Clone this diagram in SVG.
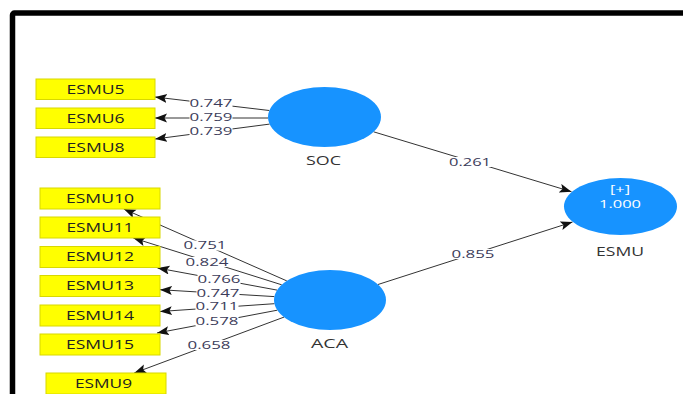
<svg xmlns="http://www.w3.org/2000/svg" width="683" height="394" viewBox="0 0 683 394">
<style>
.ind rect{fill:#ffff00;stroke:#d8d800;stroke-width:1}
.ind text{font-family:"Open Sans","Noto Sans",sans-serif;font-size:12px;fill:#222;text-anchor:middle}
.lat ellipse{fill:#1793ff}
.lat text{font-family:"Open Sans","Noto Sans",sans-serif;font-size:12px;fill:#333;text-anchor:middle}
.lat text.in{fill:#ffffff;font-size:10.5px}
.conn line{stroke:#333;stroke-width:1;marker-end:url(#ah)}
.lbl rect{fill:#ffffff}
.lbl text{font-family:"Open Sans","Noto Sans",sans-serif;font-size:10.5px;fill:#3c3c5a;text-anchor:middle}
</style>
<defs>
<marker id="ah" markerUnits="userSpaceOnUse" markerWidth="14" markerHeight="12" refX="12" refY="4.5" orient="auto">
<path d="M0,0 L12,4.5 L0,9 L2.5,4.5 z" fill="#111"/>
</marker>
</defs>
<rect x="0" y="0" width="683" height="394" fill="#ffffff"/>
<rect x="12.5" y="13" width="700" height="400" rx="2" fill="none" stroke="#000" stroke-width="5.5"/>

<g id="connectors" class="conn">
<line x1="269.3" y1="110.5" x2="155" y2="97"/>
<line x1="268" y1="118" x2="155" y2="118"/>
<line x1="269.6" y1="124.1" x2="155" y2="139"/>
<line x1="373.6" y1="131.8" x2="571.5" y2="191.7"/>
<line x1="378" y1="284.5" x2="572.5" y2="222"/>
<line x1="286.8" y1="280.9" x2="123.8" y2="209"/>
<line x1="281.7" y1="284.8" x2="133.3" y2="238"/>
<line x1="277.1" y1="290.1" x2="157.5" y2="268"/>
<line x1="274.4" y1="296.6" x2="160" y2="289.7"/>
<line x1="274.5" y1="303.7" x2="160" y2="311.5"/>
<line x1="277.3" y1="310.2" x2="157" y2="333"/>
<line x1="284" y1="317.1" x2="134.2" y2="373"/>
<g class="lbl">
<rect x="189.5" y="98" width="43" height="10"/><text x="211" y="106.7" textLength="43" lengthAdjust="spacingAndGlyphs">0.747</text>
<rect x="189.5" y="112" width="43" height="10"/><text x="211" y="120.7" textLength="43" lengthAdjust="spacingAndGlyphs">0.759</text>
<rect x="189.5" y="126" width="43" height="10"/><text x="211" y="134.7" textLength="43" lengthAdjust="spacingAndGlyphs">0.739</text>
<rect x="448.5" y="157" width="43" height="10"/><text x="470" y="165.7" textLength="42" lengthAdjust="spacingAndGlyphs">0.261</text>
<rect x="451.5" y="249" width="43" height="10"/><text x="473" y="257.7" textLength="43" lengthAdjust="spacingAndGlyphs">0.855</text>
<rect x="183.5" y="240.5" width="43" height="10"/><text x="205" y="249.2" textLength="43" lengthAdjust="spacingAndGlyphs">0.751</text>
<rect x="185.5" y="257" width="43" height="10"/><text x="207" y="265.7" textLength="43" lengthAdjust="spacingAndGlyphs">0.824</text>
<rect x="197.5" y="274" width="43" height="10"/><text x="219" y="282.7" textLength="43" lengthAdjust="spacingAndGlyphs">0.766</text>
<rect x="196.5" y="288.7" width="43" height="10"/><text x="218" y="297.4" textLength="43" lengthAdjust="spacingAndGlyphs">0.747</text>
<rect x="195.5" y="301.7" width="43" height="10"/><text x="217" y="310.4" textLength="43" lengthAdjust="spacingAndGlyphs">0.711</text>
<rect x="195.5" y="316" width="43" height="10"/><text x="217" y="324.7" textLength="43" lengthAdjust="spacingAndGlyphs">0.578</text>
<rect x="187.5" y="340" width="43" height="10"/><text x="209" y="348.7" textLength="43" lengthAdjust="spacingAndGlyphs">0.658</text>
</g>
</g>

<g id="SOC" class="lat"><ellipse cx="324.5" cy="117" rx="56.5" ry="30"/><text x="323.5" y="165.3" textLength="35" lengthAdjust="spacingAndGlyphs">SOC</text></g>
<g id="ACA" class="lat"><ellipse cx="330" cy="300" rx="56" ry="30"/><text x="329.5" y="348.3" textLength="37" lengthAdjust="spacingAndGlyphs">ACA</text></g>
<g id="ESMU" class="lat"><ellipse cx="620.5" cy="206.5" rx="56.5" ry="28.5"/>
<text class="in" x="620" y="192.7" textLength="20" lengthAdjust="spacingAndGlyphs">[+]</text>
<text class="in" x="620" y="208" textLength="42" lengthAdjust="spacingAndGlyphs">1.000</text>
<text x="620" y="256" textLength="48" lengthAdjust="spacingAndGlyphs">ESMU</text></g>

<g id="ESMU5" class="ind"><rect x="36" y="79" width="119" height="20.5"/><text x="95.5" y="93.5" textLength="58" lengthAdjust="spacingAndGlyphs">ESMU5</text></g>
<g id="ESMU6" class="ind"><rect x="36" y="108" width="119" height="20.5"/><text x="95.5" y="122.5" textLength="58" lengthAdjust="spacingAndGlyphs">ESMU6</text></g>
<g id="ESMU8" class="ind"><rect x="36" y="137" width="119" height="20.5"/><text x="95.5" y="151.5" textLength="58" lengthAdjust="spacingAndGlyphs">ESMU8</text></g>
<g id="ESMU10" class="ind"><rect x="40" y="188" width="120" height="21"/><text x="100" y="202.8" textLength="68" lengthAdjust="spacingAndGlyphs">ESMU10</text></g>
<g id="ESMU11" class="ind"><rect x="40" y="217" width="120" height="21"/><text x="100" y="231.8" textLength="67" lengthAdjust="spacingAndGlyphs">ESMU11</text></g>
<g id="ESMU12" class="ind"><rect x="40" y="246.5" width="120" height="21"/><text x="100" y="261.3" textLength="68" lengthAdjust="spacingAndGlyphs">ESMU12</text></g>
<g id="ESMU13" class="ind"><rect x="40" y="275.5" width="120" height="21"/><text x="100" y="290.3" textLength="68" lengthAdjust="spacingAndGlyphs">ESMU13</text></g>
<g id="ESMU14" class="ind"><rect x="40" y="305" width="120" height="21"/><text x="100" y="319.8" textLength="68" lengthAdjust="spacingAndGlyphs">ESMU14</text></g>
<g id="ESMU15" class="ind"><rect x="40" y="334" width="120" height="21"/><text x="100" y="348.8" textLength="68" lengthAdjust="spacingAndGlyphs">ESMU15</text></g>
<g id="ESMU9" class="ind"><rect x="46" y="373" width="120" height="21"/><text x="103.5" y="387.8" textLength="57" lengthAdjust="spacingAndGlyphs">ESMU9</text></g>
</svg>
